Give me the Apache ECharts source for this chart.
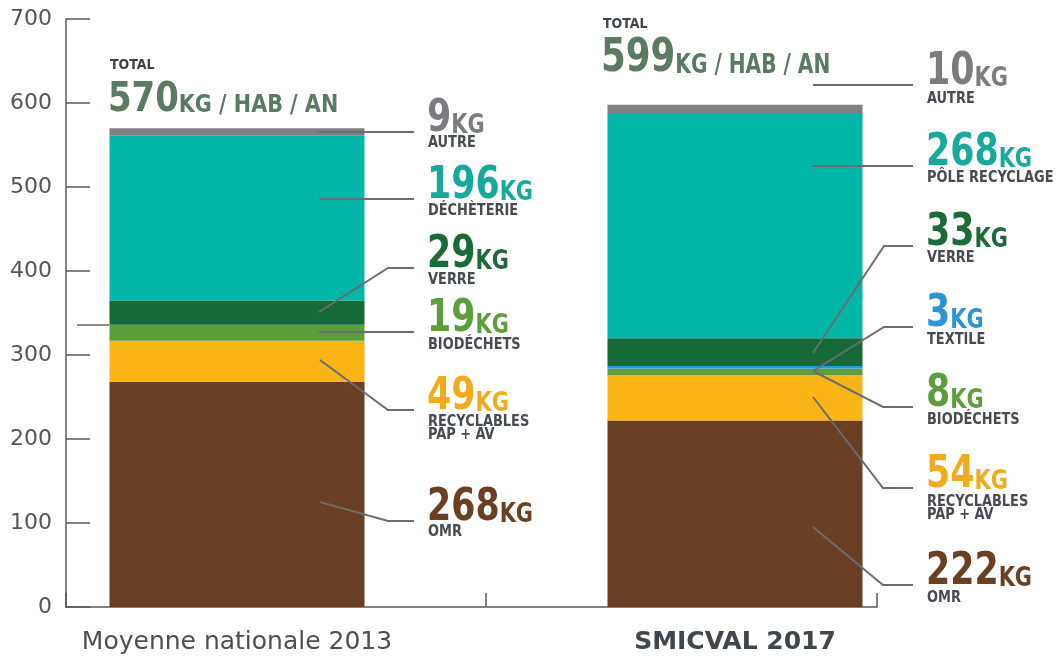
<!DOCTYPE html>
<html><head><meta charset="utf-8">
<script src="https://cdn.jsdelivr.net/npm/echarts@6/dist/echarts.min.js"></script>
<style>html,body{margin:0;padding:0;background:#fff}#c{width:1056px;height:658px}</style>
</head><body><div id="c"></div>
<script>
// ---------- DATA ----------
const categories = ['Moyenne nationale 2013', 'SMICVAL 2017'];
const omr = [268, 222];
const recyclables = [49, 54];
const biodechets = [19, 8];
const textile = [0, 3];
const verre = [29, 33];
const decheterie = [196, 268];
const autre = [9, 10];
const totals = [570, 599];
const yMin = 0, yMax = 700, yStep = 100;

// series names / sub-labels per bar
const seriesDefs = [
  { key: 'omr', data: omr, color: '#6a3f23', text: '#6a3f22', sub: ['OMR', 'OMR'] },
  { key: 'rec', data: recyclables, color: '#fbb415', text: '#f3ab1e', sub: ['RECYCLABLES\nPAP + AV', 'RECYCLABLES\nPAP + AV'] },
  { key: 'bio', data: biodechets, color: '#5c9f3a', text: '#5b9e3b', sub: ['BIODÉCHETS', 'BIODÉCHETS'] },
  { key: 'tex', data: textile, color: '#1ba0db', text: '#2a95d2', sub: ['TEXTILE', 'TEXTILE'] },
  { key: 'ver', data: verre, color: '#156a37', text: '#1b6a3a', sub: ['VERRE', 'VERRE'] },
  { key: 'dec', data: decheterie, color: '#00b6a6', text: '#17a99b', sub: ['DÉCHÈTERIE', 'PÔLE RECYCLAGE'] },
  { key: 'aut', data: autre, color: '#7e7f82', text: '#7b7c7f', sub: ['AUTRE', 'AUTRE'] }
];

// ---------- ANNOTATION LAYOUT (pixels) ----------
const FONT = "'DejaVu Sans Condensed', 'Liberation Sans Narrow', 'Roboto Condensed', 'DejaVu Sans', sans-serif";
const annLayout = [
  { key: 'aut', bar: 0, x: 427, base: 132, sub: 138, pts: [[319,132],[414,132]] },
  { key: 'dec', bar: 0, x: 427, base: 199, sub: 206, pts: [[319,199],[414,199]] },
  { key: 'ver', bar: 0, x: 427, base: 268, sub: 275, pts: [[319,312],[388,268],[414,268]] },
  { key: 'bio', bar: 0, x: 427, base: 332, sub: 340, pts: [[319,332],[414,332]] },
  { key: 'rec', bar: 0, x: 427, base: 410, sub: 417, pts: [[320,360],[388,410],[414,410]] },
  { key: 'omr', bar: 0, x: 427, base: 521, sub: 527, pts: [[320,502],[388,521],[414,521]] },
  { key: 'aut', bar: 1, x: 926, base: 85, sub: 94, pts: [[813,85],[913,85]] },
  { key: 'dec', bar: 1, x: 926, base: 166, sub: 173, pts: [[812,166],[913,166]] },
  { key: 'ver', bar: 1, x: 926, base: 246, sub: 253, pts: [[813,353],[884,246],[913,246]] },
  { key: 'tex', bar: 1, x: 926, base: 327, sub: 335, pts: [[813,371],[884,327],[913,327]] },
  { key: 'bio', bar: 1, x: 926, base: 407, sub: 415, pts: [[813,371],[883,407],[913,407]] },
  { key: 'rec', bar: 1, x: 926, base: 488, sub: 497, pts: [[813,397],[883,488],[913,488]] },
  { key: 'omr', bar: 1, x: 926, base: 585, sub: 593, pts: [[813,527],[883,585],[913,585]] }
];
const totalLayout = [
  { x: 108, titleTop: 58, base: 112, size: 41, unit: 25, scale: 0.92 },
  { x: 601, titleTop: 17, base: 72, size: 46, unit: 26, scale: 0.86 }
];

const NUM_SIZE = 45, UNIT_SIZE = 27, NUM_SCALE = 0.86;

function numText(x, base, num, unit, color, nSize, uSize, scale) {
  return { type: 'text', z: 101, x: x, y: base + Math.round(nSize * 0.214), scaleX: scale, scaleY: 1,
    style: { text: '{n|' + num + '}{u|' + unit + '}', verticalAlign: 'bottom', align: 'left',
      rich: {
        n: { fontSize: nSize, fontFamily: FONT, fontWeight: 'bold', fill: color, lineHeight: nSize, verticalAlign: 'bottom' },
        u: { fontSize: uSize, fontFamily: FONT, fontWeight: 'bold', fill: color, lineHeight: uSize, verticalAlign: 'bottom',
             padding: [0, 0, Math.round((nSize - uSize) * 0.17), 0] }
      } } };
}

const graphics = [];
annLayout.forEach(a => {
  const d = seriesDefs.find(s => s.key === a.key);
  const v = d.data[a.bar];
  graphics.push({ type: 'polyline', z: 100, shape: { points: a.pts },
    style: { stroke: '#6a6d71', lineWidth: 2, fill: null } });
  graphics.push(numText(a.x, a.base, v, 'KG', d.text, NUM_SIZE, UNIT_SIZE, NUM_SCALE));
  graphics.push({ type: 'text', z: 101, x: a.x + 1, y: a.sub - 1, scaleX: 0.96,
    style: { text: d.sub[a.bar], fontSize: 15, fontFamily: FONT, fontWeight: 'bold', fill: '#474c52',
      lineHeight: 13, verticalAlign: 'top', align: 'left' } });
});
totalLayout.forEach((t, i) => {
  graphics.push({ type: 'text', z: 101, x: t.x + 2, y: t.titleTop,
    style: { text: 'TOTAL', fontSize: 14, fontFamily: FONT, fontWeight: 'bold', fill: '#3f4448', verticalAlign: 'top' } });
  graphics.push(numText(t.x, t.base, totals[i], 'KG / HAB / AN', '#5b7a62', t.size, t.unit, t.scale));
});
// stray short line at the left of the first bar
graphics.push({ type: 'line', z: 100, shape: { x1: 77, y1: 325, x2: 109, y2: 325 },
  style: { stroke: '#666', lineWidth: 1.5 } });

const chart = echarts.init(document.getElementById('c'), null, { renderer: 'canvas' });
chart.setOption({
  animation: false,
  backgroundColor: '#fff',
  grid: [
    { left: 237, right: 321, top: 19, bottom: 51 },
    { left: 66, right: 179, top: 19, bottom: 51 }
  ],
  xAxis: [
    { type: 'category', gridIndex: 0, data: categories, boundaryGap: false,
      axisLine: { show: false }, axisTick: { show: false },
      axisLabel: { margin: 23, fontSize: 25, fontFamily: 'DejaVu Sans', color: '#4a5056',
        formatter: (v, i) => i === 1 ? '{b|' + v + '}' : v,
        rich: { b: { fontSize: 25, fontFamily: 'DejaVu Sans', fontWeight: 'bold', color: '#3f464c' } } } },
    { type: 'value', gridIndex: 1, min: 0, max: 811, interval: 420,
      axisLine: { show: true, lineStyle: { color: '#5a5a5a', width: 1.5 } },
      axisTick: { show: true, inside: true, length: 14, lineStyle: { color: '#5a5a5a', width: 1.5 } },
      axisLabel: { show: false }, splitLine: { show: false } }
  ],
  yAxis: [
    { type: 'value', gridIndex: 0, min: yMin, max: yMax, interval: yStep, show: false },
    { type: 'value', gridIndex: 1, min: yMin, max: yMax, interval: yStep,
      axisLine: { show: true, lineStyle: { color: '#5a5a5a', width: 1.5 } },
      axisTick: { show: true, inside: true, length: 24, lineStyle: { color: '#5a5a5a', width: 1.5 } },
      axisLabel: { margin: 14, fontSize: 22, fontFamily: 'DejaVu Sans', color: '#555' },
      splitLine: { show: false } }
  ],
  series: seriesDefs.map(s => ({
    type: 'bar', name: s.key, stack: 'total', xAxisIndex: 0, yAxisIndex: 0,
    data: s.data, barWidth: 255, clip: false, silent: true,
    itemStyle: { color: s.color }
  })),
  graphic: graphics
});
</script>
</body></html>
